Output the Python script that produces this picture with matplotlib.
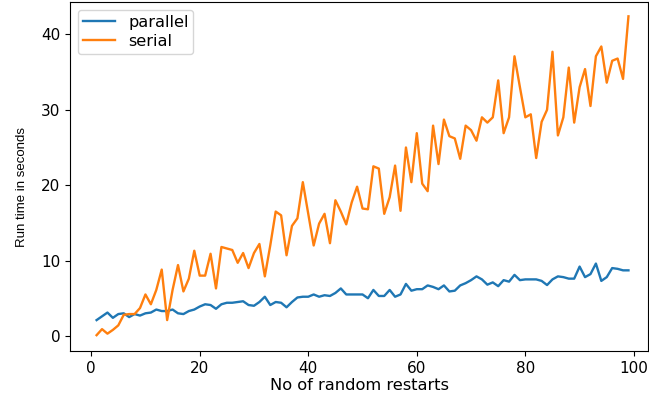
import matplotlib
matplotlib.use("Agg")
from matplotlib import pyplot as plt

restarts = list(range(1, 100))

parallel = [2.1, 2.6, 3.1, 2.4, 2.9, 3.0, 2.5, 2.9, 2.7, 3.0,
            3.1, 3.5, 3.3, 3.3, 3.5, 3.0, 2.9, 3.3, 3.5, 3.9,
            4.2, 4.1, 3.6, 4.2, 4.4, 4.4, 4.5, 4.6, 4.1, 4.0,
            4.5, 5.2, 4.1, 4.5, 4.4, 3.8, 4.5, 5.1, 5.2, 5.2,
            5.5, 5.2, 5.4, 5.3, 5.7, 6.3, 5.5, 5.5, 5.5, 5.5,
            5.0, 6.1, 5.3, 5.3, 6.1, 5.2, 5.5, 6.9, 6.0, 6.2,
            6.2, 6.7, 6.5, 6.2, 6.7, 5.9, 6.0, 6.7, 7.0, 7.4,
            7.9, 7.5, 6.8, 7.1, 6.6, 7.4, 7.2, 8.1, 7.4, 7.5,
            7.5, 7.5, 7.3, 6.75, 7.5, 7.9, 7.8, 7.6, 7.6, 9.2,
            7.8, 8.2, 9.6, 7.3, 7.8, 9.0, 8.9, 8.7, 8.7]

serial = [0.1, 0.9, 0.3, 0.8, 1.4, 2.8, 2.9, 2.9, 3.7, 5.5,
          4.2, 6.1, 8.8, 2.1, 6.1, 9.4, 5.9, 7.6, 11.3, 8.0,
          8.0, 10.9, 6.3, 11.8, 11.6, 11.4, 9.7, 11.0, 9.0, 11.0,
          12.2, 7.9, 12.0, 16.5, 16.0, 10.7, 14.6, 15.6, 20.4, 16.2,
          12.0, 14.9, 16.2, 12.3, 18.0, 16.5, 14.8, 17.7, 19.8, 16.9,
          16.8, 22.5, 22.2, 16.2, 18.4, 22.6, 16.6, 25.0, 20.4, 26.9,
          20.2, 19.2, 27.9, 22.8, 28.7, 26.5, 26.2, 23.5, 27.9, 27.3,
          25.9, 29.0, 28.3, 29.0, 33.9, 26.9, 29.0, 37.1, 33.0, 29.0,
          29.4, 23.6, 28.4, 30.0, 37.7, 26.6, 29.0, 35.6, 28.3, 33.0,
          35.4, 30.5, 37.1, 38.4, 33.6, 36.5, 36.8, 34.1, 42.4]

fig = plt.figure(figsize=(6.49, 3.93), dpi=100)
ax = fig.add_axes([70 / 649, 42 / 393, 578 / 649, 349 / 393])

ax.plot(restarts, parallel, label="parallel", lw=1.7)
ax.plot(restarts, serial, label="serial", lw=1.7)

ax.set_xlim(-3.9, 102.6)
ax.set_ylim(-2.0, 44.3)
ax.set_xticks([0, 20, 40, 60, 80, 100])
ax.set_yticks([0, 10, 20, 30, 40])
ax.tick_params(labelsize=11)

ax.set_xlabel("No of random restarts", fontsize=11.7, labelpad=2)
# the y label in the original uses a narrower face than the rest
ax.set_ylabel("Run time in seconds", fontsize=9.5,
              family=["Liberation Sans", "DejaVu Sans"])
ax.yaxis.set_label_coords(-0.073, 0.47)
ax.legend(loc="upper left", fontsize=11.6, labelspacing=0.25,
          borderaxespad=0.5, borderpad=0.3)

fig.savefig("out.png", dpi=100)
